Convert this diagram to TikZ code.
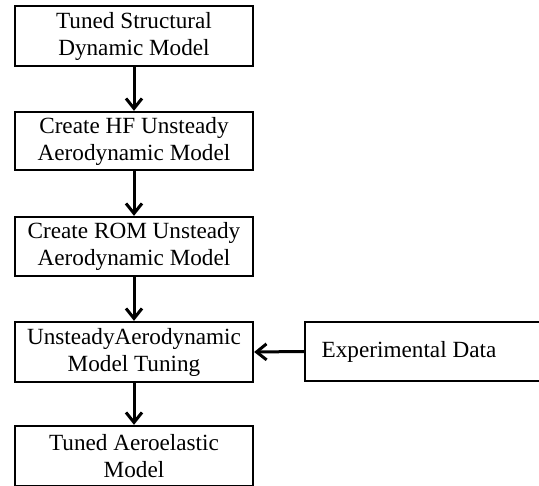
\documentclass[tikz,border=0pt]{standalone}
\usepackage{fontspec}
\setmainfont{Liberation Serif}
\usetikzlibrary{arrows.meta}
\begin{document}
\begin{tikzpicture}[x=1pt,y=-1pt,
  stepbox/.style={draw=black,line width=2.3pt,minimum width=238pt,inner sep=0pt,align=center,
    font=\fontsize{23.2}{27}\selectfont},
  flow/.style={line width=3pt,-{Straight Barb[length=10pt,width=16pt,line width=3pt]}}]
\useasboundingbox (0,0) rectangle (539,486);
\node[stepbox,minimum height=60pt] (b1) at (134,36) {Tuned Structural\\Dynamic Model};
\node[stepbox,minimum height=58pt] (b2) at (134,141) {Create HF Unsteady\\Aerodynamic Model};
\node[stepbox,minimum height=59pt] (b3) at (134,246.5) {Create ROM Unsteady\\Aerodynamic Model};
\node[stepbox,minimum height=60pt] (b4) at (134,352) {UnsteadyAerodynamic\\Model Tuning};
\node[stepbox,minimum height=60pt] (b5) at (134,456) {Tuned Aeroelastic\\Model};
\node[stepbox,minimum width=241pt,minimum height=59pt,anchor=west] (ed) at (304,351.5) {};
\node[font=\fontsize{23.2}{27}\selectfont] (edt) at (409,351.5) {Experimental Data};
\draw[flow] (b1) -- (b2);
\draw[flow] (b2) -- (b3);
\draw[flow] (b3) -- (b4);
\draw[flow] (b4) -- (b5);
\draw[flow] (ed.west) -- (b4.east);
\end{tikzpicture}
\end{document}
